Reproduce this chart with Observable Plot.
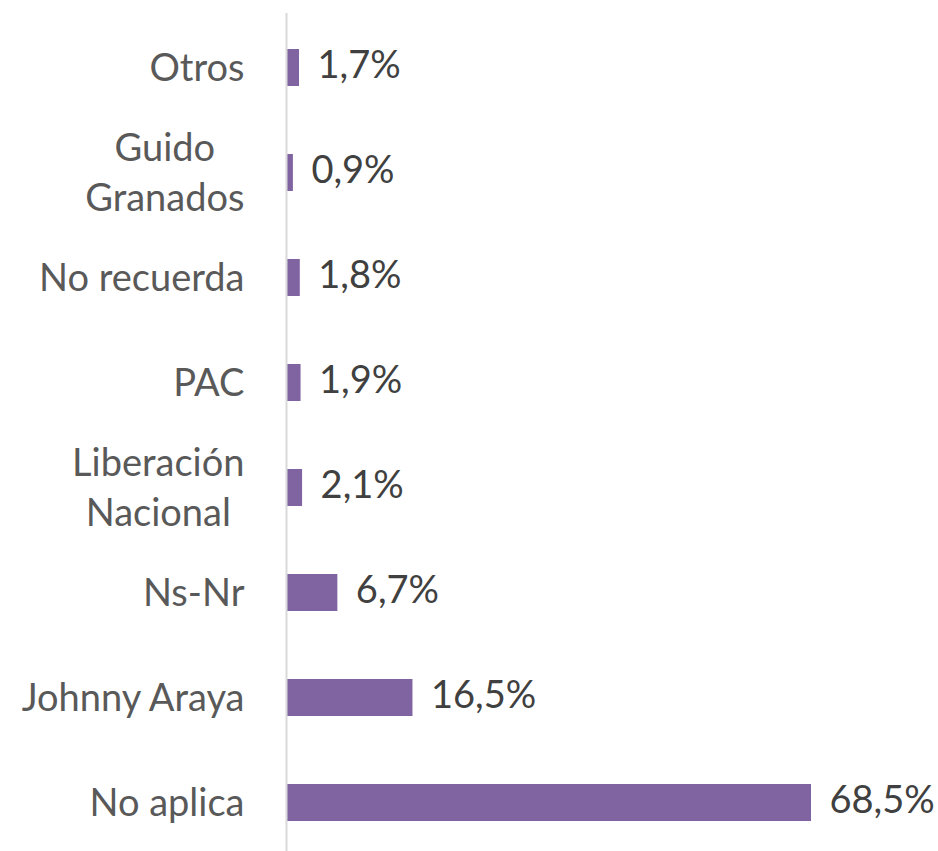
<!DOCTYPE html>
<html>
<head>
<meta charset="utf-8">
<script src="https://cdn.jsdelivr.net/npm/d3@7"></script>
<script src="https://cdn.jsdelivr.net/npm/@observablehq/plot@0.6"></script>
<style>
  html, body { margin: 0; padding: 0; background: #fff; }
  #chart svg { display: block; }
</style>
</head>
<body>
<div id="chart"></div>
<script>
const categories = ["Otros", "Guido\nGranados", "No recuerda", "PAC", "Liberación\nNacional", "Ns-Nr", "Johnny Araya", "No aplica"];
const values = [1.7, 0.9, 1.8, 1.9, 2.1, 6.7, 16.5, 68.5];
const valueLabels = ["1,7%", "0,9%", "1,8%", "1,9%", "2,1%", "6,7%", "16,5%", "68,5%"];

const data = categories.map((c, i) => ({category: c, value: values[i], label: valueLabels[i]}));

const FONT = "Lato, 'Open Sans', sans-serif";
const FS = 38;

const chart = Plot.plot({
  width: 938,
  height: 851,
  marginLeft: 286,
  marginRight: 0,
  marginTop: 13,
  marginBottom: 0,
  style: {fontFamily: FONT, fontSize: FS + "px", background: "#fff"},
  x: {domain: [0, 68.5], range: [286, 811], axis: null},
  y: {domain: categories, range: [13, 856], paddingInner: 0.65, paddingOuter: 0.325, axis: null},
  marks: [
    Plot.barX(data, {y: "category", x: "value", fill: "#8064A2"}),
    Plot.ruleX([0], {stroke: "#d9d9d9", strokeWidth: 2}),
    Plot.text(data, {y: "category", x: 0, text: "category", textAnchor: "end", dx: -42, dy: -3, fill: "#595959", lineHeight: 1.33, fontSize: FS, className: "cat-labels"}),
    Plot.text(data, {y: "category", x: "value", text: "label", textAnchor: "start", dx: 18, dy: -2, fill: "#404040", fontSize: FS})
  ]
});
document.getElementById("chart").appendChild(chart);

// center multi-line category labels relative to each other (block stays right-aligned)
chart.querySelectorAll(".cat-labels text").forEach(t => {
  const spans = t.querySelectorAll("tspan");
  if (spans.length > 1) {
    const maxW = d3.max(Array.from(spans), s => s.getComputedTextLength());
    t.setAttribute("text-anchor", "middle");
    spans.forEach(s => s.setAttribute("x", -maxW / 2));
  }
});
</script>
</body>
</html>
